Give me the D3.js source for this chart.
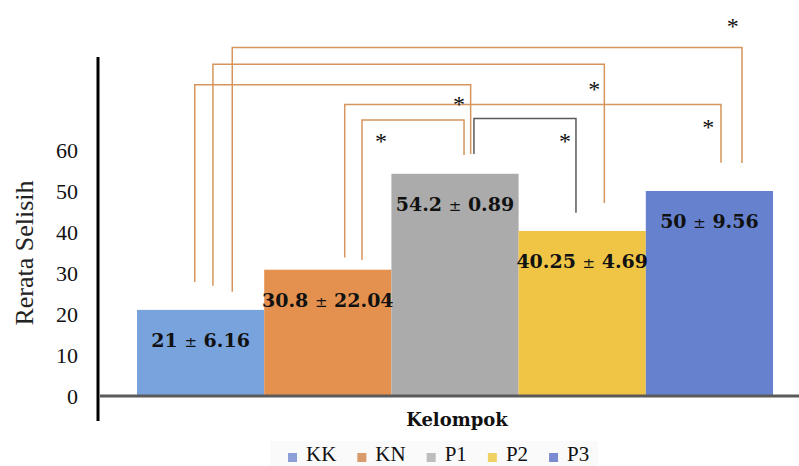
<!DOCTYPE html>
<html>
<head>
<meta charset="utf-8">
<script src="https://cdn.jsdelivr.net/npm/d3@7/dist/d3.min.js"></script>
<style>
  html, body { margin: 0; padding: 0; background: #fff; }
  svg { display: block; }
</style>
</head>
<body>
<svg id="chart" width="799" height="466"></svg>
<script>
// ---------- data ----------
const categories = ["KK", "KN", "P1", "P2", "P3"];
const means = [21, 30.8, 54.2, 40.25, 50];
const sds = [6.16, 22.04, 0.89, 4.69, 9.56];
const yTicks = [0, 10, 20, 30, 40, 50, 60];
const comparisons = [["KK", "P3"], ["KK", "P2"], ["KK", "P1"], ["KN", "P3"], ["KN", "P1"], ["P1", "P2"]];
const significance = ["*", "*", "*", "*", "*", "*"];

// ---------- styles / layout ----------
const barColors = ["#78a3dc", "#e4914f", "#ababab", "#f0c546", "#6682cf"];
const legendColors = ["#8d9fd8", "#d99a6c", "#bdbdbd", "#f0d264", "#7b8bd2"];
// bracket layout: offsets as fraction of band width from band centre, levels in value units
const bracketLayout = [
  { fa: 0.249, fb: 0.256, top: 85.0, legA: 25.4, legB: 56.8, sf: 0.183, sy: 91.1, color: "#d6955c" },
  { fa: 0.097, fb: 0.174, top: 80.9, legA: 26.9, legB: 47.1, sf: 0.095, sy: 75.9, color: "#d6955c" },
  { fa: -0.046, fb: 0.123, top: 75.9, legA: 27.8, legB: 59.0, sf: 0.031, sy: 72.2, color: "#d6955c" },
  { fa: 0.133, fb: 0.091, top: 71.1, legA: 33.8, legB: 56.9, sf: -0.009, sy: 66.6, color: "#d6955c" },
  { fa: 0.269, fb: 0.071, top: 67.3, legA: 33.2, legB: 58.8, sf: 0.418, sy: 63.2, color: "#d6955c", starOn: "a" },
  { fa: 0.149, fb: -0.049, top: 67.7, legA: 59.0, legB: 44.7, sf: -0.135, sy: 63.2, color: "#5a5a5a" }
];

const svg = d3.select("#chart");

const x = d3.scaleBand().domain(categories).range([137, 773]).padding(0);
const y = d3.scaleLinear().domain([0, 60]).range([396, 150]);
const bw = x.bandwidth();
const cx = c => x(c) + bw / 2;

// bars
svg.append("g").selectAll("rect")
  .data(categories)
  .join("rect")
  .attr("x", d => x(d))
  .attr("y", (d, i) => y(means[i]))
  .attr("width", bw)
  .attr("height", (d, i) => y(0) - y(means[i]))
  .attr("fill", (d, i) => barColors[i]);

// value labels
const labels = svg.append("g").selectAll("text")
  .data(categories)
  .join("text")
  .attr("x", d => cx(d))
  .attr("y", (d, i) => y(means[i]) + 37)
  .attr("text-anchor", "middle")
  .attr("font-family", "'DejaVu Serif', serif")
  .attr("font-weight", "bold")
  .attr("font-size", 19)
  .attr("fill", "#111");
labels.append("tspan").text((d, i) => means[i] + " ");
labels.append("tspan").attr("font-weight", "normal").attr("font-size", 15).text("\u00B1");
labels.append("tspan").text((d, i) => " " + sds[i]);

// y axis ticks
const yAxis = d3.axisLeft(y).tickValues(yTicks).tickSize(0).tickPadding(20).tickFormat(d3.format("d"));
const gy = svg.append("g").attr("transform", "translate(98,0)").call(yAxis);
gy.select(".domain").remove();
gy.selectAll("text")
  .attr("font-family", "'Liberation Serif', serif")
  .attr("font-size", 22)
  .attr("fill", "#111");

// baseline (x axis)
svg.append("line")
  .attr("x1", 100).attr("x2", 799)
  .attr("y1", y(0)).attr("y2", y(0))
  .attr("stroke", "#5a5a5a").attr("stroke-width", 3);

// y axis vertical line
svg.append("line")
  .attr("x1", 98).attr("x2", 98)
  .attr("y1", 57).attr("y2", 421)
  .attr("stroke", "#000").attr("stroke-width", 3);

// brackets
const gb = svg.append("g").attr("fill", "none");
comparisons.forEach((pair, i) => {
  const L = bracketLayout[i];
  const xa = cx(pair[0]) + L.fa * bw;
  const xb = cx(pair[1]) + L.fb * bw;
  gb.append("path")
    .attr("d", `M${xa},${y(L.legA)}V${y(L.top)}H${xb}V${y(L.legB)}`)
    .attr("stroke", L.color)
    .attr("stroke-width", 1.5);
});
// stars
svg.append("g").selectAll("text")
  .data(comparisons)
  .join("text")
  .attr("x", (d, i) => (bracketLayout[i].starOn === "a" ? cx(d[0]) : cx(d[1])) + bracketLayout[i].sf * bw)
  .attr("y", (d, i) => y(bracketLayout[i].sy) + 12)
  .attr("text-anchor", "middle")
  .attr("font-family", "'Liberation Serif', serif")
  .attr("font-size", 24)
  .attr("fill", "#111")
  .text((d, i) => significance[i]);

// y axis title
svg.append("text")
  .attr("transform", "translate(33,253) rotate(-90)")
  .attr("text-anchor", "middle")
  .attr("font-family", "'Liberation Serif', serif")
  .attr("font-size", 26)
  .attr("fill", "#222")
  .text("Rerata Selisih");

// x axis title
svg.append("text")
  .attr("x", 457).attr("y", 426)
  .attr("text-anchor", "middle")
  .attr("font-family", "'DejaVu Serif', serif")
  .attr("font-weight", "bold")
  .attr("font-size", 18)
  .attr("fill", "#111")
  .text("Kelompok");

// legend
const lg = svg.append("g");
lg.append("rect").attr("x", 270).attr("y", 441).attr("width", 328).attr("height", 25).attr("fill", "#fafafa");
let lx = 288;
categories.forEach((c, i) => {
  lg.append("rect").attr("x", lx).attr("y", 453).attr("width", 9).attr("height", 9).attr("fill", legendColors[i]);
  const t = lg.append("text")
    .attr("x", lx + 18).attr("y", 461)
    .attr("font-family", "'Liberation Serif', serif")
    .attr("font-size", 21)
    .attr("fill", "#111")
    .text(c);
  lx += 18 + t.node().getComputedTextLength() + 21;
});
</script>
</body>
</html>
